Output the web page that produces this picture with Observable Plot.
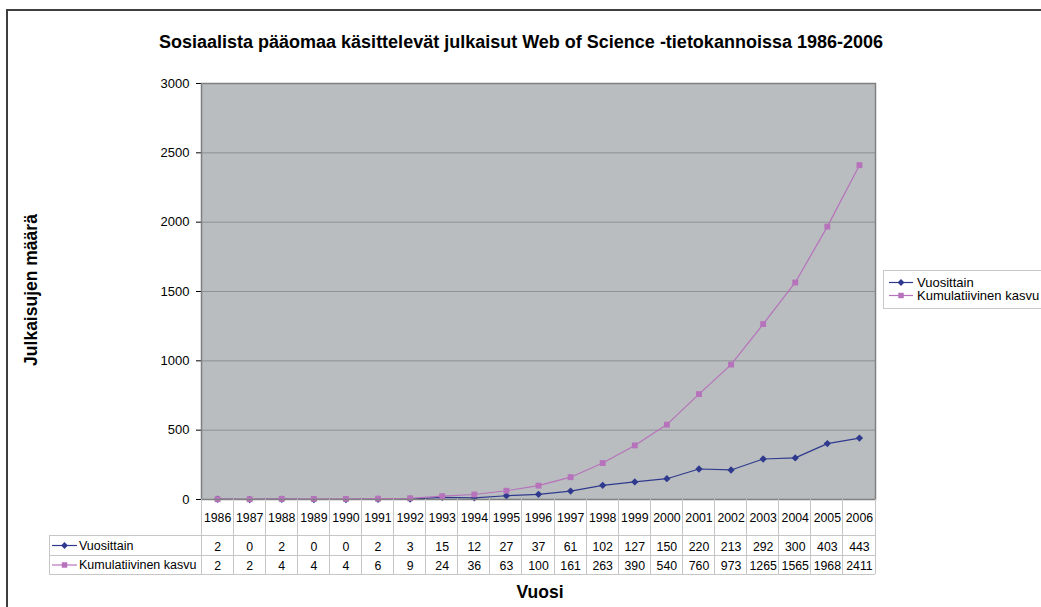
<!DOCTYPE html>
<html>
<head>
<meta charset="utf-8">
<script src="https://cdn.jsdelivr.net/npm/d3@7"></script>
<script src="https://cdn.jsdelivr.net/npm/@observablehq/plot@0.6"></script>
<style>
  html, body { margin: 0; padding: 0; background: white; overflow: hidden; }
  #chart svg { display: block; }
</style>
</head>
<body>
<div id="chart"></div>
<script>
const years = [1986, 1987, 1988, 1989, 1990, 1991, 1992, 1993, 1994, 1995, 1996, 1997, 1998, 1999, 2000, 2001, 2002, 2003, 2004, 2005, 2006];
const vuosittain = [2, 0, 2, 0, 0, 2, 3, 15, 12, 27, 37, 61, 102, 127, 150, 220, 213, 292, 300, 403, 443];
const kumulatiivinen = [2, 2, 4, 4, 4, 6, 9, 24, 36, 63, 100, 161, 263, 390, 540, 760, 973, 1265, 1565, 1968, 2411];
const yTicks = [0, 500, 1000, 1500, 2000, 2500, 3000];
const seriesNames = ["Vuosittain", "Kumulatiivinen kasvu"];
const seriesSymbols = ["diamond2", "square"];
const colors = ["#2f3a8f", "#b672bb"];
const title = "Sosiaalista pääomaa käsittelevät julkaisut Web of Science -tietokannoissa 1986-2006";
const yLabel = "Julkaisujen määrä";
const xLabel = "Vuosi";

const data = years.map((y, i) => ({year: y, v: vuosittain[i], k: kumulatiivinen[i]}));
const font = "'Liberation Sans', Arial, sans-serif";

const plot = Plot.plot({
  width: 1041,
  height: 607,
  marginLeft: 201,
  marginRight: 166,
  marginTop: 83,
  marginBottom: 108,
  style: {fontFamily: font, fontSize: "13px", background: "white", color: "#000"},
  x: {type: "linear", domain: [years[0] - 0.5, years[years.length - 1] + 0.5], axis: null},
  y: {domain: [0, 3000], ticks: yTicks, tickSize: 5, tickPadding: 7, label: null, tickFormat: d => String(d)},
  marks: [
    Plot.frame({fill: "#b9bdbf"}),
    Plot.ruleY(yTicks.slice(1), {stroke: "#8e9294", strokeWidth: 1}),
    Plot.line(data, {x: "year", y: "v", stroke: colors[0], strokeWidth: 1.2}),
    Plot.dot(data, {x: "year", y: "v", symbol: seriesSymbols[0], fill: colors[0], stroke: "none", r: 3.3}),
    Plot.line(data, {x: "year", y: "k", stroke: colors[1], strokeWidth: 1.2}),
    Plot.dot(data, {x: "year", y: "k", symbol: seriesSymbols[1], fill: colors[1], stroke: "none", r: 3.3}),
    Plot.frame({stroke: "#808080", strokeWidth: 1.5}),
    Plot.text(years, {x: d => d, y: () => 0, dy: 19, text: d => String(d), fontSize: 12.3}),
    Plot.text(data, {x: "year", y: () => 0, dy: 48, text: d => String(d.v), fontSize: 12.3}),
    Plot.text(data, {x: "year", y: () => 0, dy: 67, text: d => String(d.k), fontSize: 12.3})
  ]
});

document.getElementById("chart").appendChild(plot);

const svg = d3.select(plot);
const xs = plot.scale("x");
const ys = plot.scale("y");
const X = v => xs.apply(v);
const y0 = ys.apply(0);
const xRight = X(years[years.length - 1] + 0.5);
const tableLeft = 49;
const rowLines = [y0 + 36, y0 + 56, y0 + 75];
const tableBottom = rowLines[2];
const gridColor = "#c6c6c6";

const g = svg.append("g").attr("shape-rendering", "crispEdges");
years.concat([years[years.length - 1] + 1]).forEach(y => {
  g.append("line").attr("x1", X(y - 0.5)).attr("x2", X(y - 0.5))
    .attr("y1", y0).attr("y2", tableBottom).attr("stroke", gridColor);
});
rowLines.forEach(ry => {
  g.append("line").attr("x1", tableLeft).attr("x2", xRight)
    .attr("y1", ry).attr("y2", ry).attr("stroke", gridColor);
});
g.append("line").attr("x1", tableLeft).attr("x2", tableLeft)
  .attr("y1", rowLines[0]).attr("y2", tableBottom).attr("stroke", gridColor);

function legendKey(parent, x1, x2, cy, i) {
  parent.append("line").attr("x1", x1).attr("x2", x2).attr("y1", cy).attr("y2", cy)
    .attr("stroke", colors[i]).attr("stroke-width", 1.2);
  const sym = i === 0 ? d3.symbolDiamond2 : d3.symbolSquare;
  parent.append("path").attr("d", d3.symbol(sym, i === 0 ? 30 : 30)())
    .attr("transform", `translate(${(x1 + x2) / 2},${cy})`).attr("fill", colors[i]);
}

[0, 1].forEach(i => {
  const cy = (rowLines[i] + rowLines[i + 1]) / 2 + 0.5;
  legendKey(svg, 52, 77, cy, i);
  svg.append("text").attr("x", 79).attr("y", cy).attr("dy", "0.35em")
    .attr("text-anchor", "start")
    .attr("font-size", 12.5).attr("font-family", font).text(seriesNames[i]);
});

svg.append("rect").attr("x", 883.5).attr("y", 270.5).attr("width", 200).attr("height", 38)
  .attr("fill", "white").attr("stroke", "#c8c8c8");
[0, 1].forEach(i => {
  const cy = 282.5 + i * 13;
  legendKey(svg, 889, 913, cy, i);
  svg.append("text").attr("x", 917).attr("y", cy).attr("dy", "0.35em")
    .attr("text-anchor", "start")
    .attr("font-size", 13).attr("font-family", font).text(seriesNames[i]);
});

svg.append("text").attr("x", 521).attr("y", 42).attr("dy", "0.35em").attr("text-anchor", "middle")
  .attr("font-size", 18).attr("font-weight", "bold").attr("font-family", font).text(title);
svg.append("text").attr("transform", "translate(31,290) rotate(-90)").attr("dy", "0.35em")
  .attr("text-anchor", "middle").attr("font-size", 17.5).attr("font-weight", "bold")
  .attr("font-family", font).text(yLabel);
svg.append("text").attr("x", 540).attr("y", 592).attr("dy", "0.35em").attr("text-anchor", "middle")
  .attr("font-size", 17.5).attr("font-weight", "bold").attr("font-family", font).text(xLabel);

const border = svg.append("g").attr("stroke", "#3f3f3f").attr("stroke-width", 2).attr("shape-rendering", "crispEdges");
border.append("line").attr("x1", 6).attr("x2", 1041).attr("y1", 10).attr("y2", 10);
border.append("line").attr("x1", 7).attr("x2", 7).attr("y1", 9).attr("y2", 607);
</script>
</body>
</html>
